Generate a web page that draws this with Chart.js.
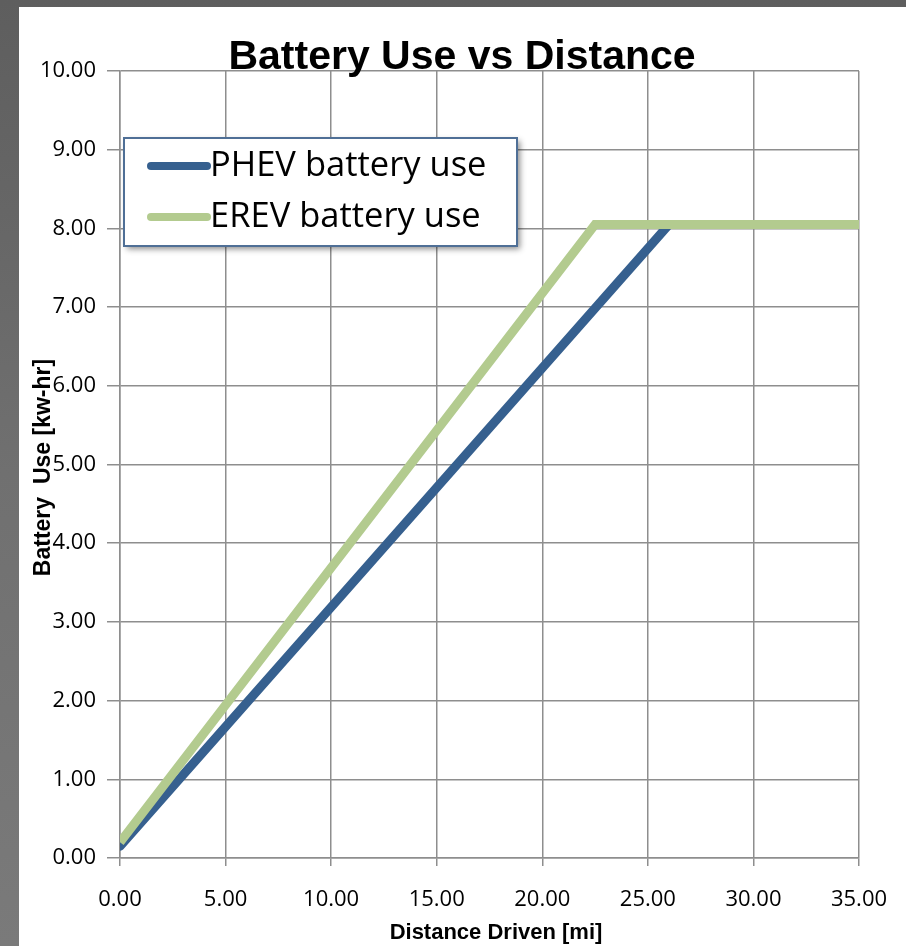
<!DOCTYPE html>
<html>
<head>
<meta charset="utf-8">
<script src="https://cdn.jsdelivr.net/npm/chart.js@4.4.1/dist/chart.umd.min.js"></script>
<style>
  html, body { margin: 0; padding: 0; background: #666; }
  #wrap { width: 906px; height: 946px; position: relative; }
  canvas { display: block; }
</style>
</head>
<body>
<div id="wrap"><canvas id="c" width="906" height="946"></canvas></div>
<script>
// ---- data ----
const chartTitle = "Battery Use vs Distance";
const xAxisTitle = "Distance Driven [mi]";
const yAxisTitle = "Battery  Use [kw-hr]";
const seriesNames = ["PHEV battery use", "EREV battery use"];
const phevDistance = [0, 26.0, 35];
const phevUse = [0.15, 8.05, 8.05];
const erevDistance = [0, 22.5, 35];
const erevUse = [0.2, 8.05, 8.05];
const xTickStep = 5, xMin = 0, xMax = 35;
const yTickStep = 1, yMin = 0, yMax = 10;

const toPts = (xs, ys) => xs.map((x, i) => ({ x: x, y: ys[i] }));

const BLUE = "#36608f";
const GREEN = "#b3cb8f";
const GRID = "#8e8e8e";

const framePlugin = {
  id: "frame",
  beforeDraw(chart) {
    const ctx = chart.ctx;
    ctx.save();
    const g = ctx.createLinearGradient(0, 0, 0, chart.height);
    g.addColorStop(0, "#5e5e5e");
    g.addColorStop(0.5, "#707070");
    g.addColorStop(1, "#7a7a7a");
    ctx.fillStyle = g;
    ctx.fillRect(0, 0, chart.width, chart.height);
    ctx.fillStyle = "#ffffff";
    ctx.fillRect(19, 7, chart.width - 19, chart.height - 7);
    ctx.restore();
  }
};

const textPlugin = {
  id: "texts",
  afterDraw(chart) {
    const ctx = chart.ctx;
    const a = chart.chartArea;
    ctx.save();
    // title
    ctx.fillStyle = "#000";
    ctx.font = "bold 41px 'Liberation Sans Narrow', 'Arial Narrow', sans-serif";
    ctx.textAlign = "center";
    ctx.textBaseline = "alphabetic";
    ctx.fillText(chartTitle, 462, 69);
    // x axis title
    ctx.font = "bold 22px 'Liberation Sans Narrow', 'Arial Narrow', sans-serif";
    ctx.fillText(xAxisTitle, 496, 939);
    // y axis title
    ctx.translate(50, (a.top + a.bottom) / 2 + 3);
    ctx.rotate(-Math.PI / 2);
    ctx.font = "bold 23px 'Liberation Sans Narrow', 'Arial Narrow', sans-serif";
    ctx.fillText(yAxisTitle, 0, 0);
    ctx.restore();

    // legend
    ctx.save();
    const lx = a.left + 4, ly = a.top + 67, lw = 393, lh = 108;
    ctx.shadowColor = "rgba(0,0,0,0.45)";
    ctx.shadowBlur = 6;
    ctx.shadowOffsetX = 3;
    ctx.shadowOffsetY = 3;
    ctx.fillStyle = "#fff";
    ctx.fillRect(lx, ly, lw, lh);
    ctx.shadowColor = "transparent";
    ctx.strokeStyle = "#4f6f96";
    ctx.lineWidth = 2;
    ctx.strokeRect(lx, ly, lw, lh);
    ctx.font = "34.5px 'Open Sans', sans-serif";
    ctx.textAlign = "left";
    ctx.textBaseline = "middle";
    chart.data.datasets.forEach((ds, i) => {
      const cy = ly + 28 + i * 51;
      ctx.strokeStyle = ds.borderColor;
      ctx.lineWidth = 8;
      ctx.lineCap = "round";
      ctx.beginPath();
      ctx.moveTo(lx + 27, cy);
      ctx.lineTo(lx + 83, cy);
      ctx.stroke();
      ctx.fillStyle = "#000";
      ctx.fillText(ds.label, lx + 86, cy);
    });
    ctx.restore();
  }
};

new Chart(document.getElementById("c"), {
  type: "scatter",
  data: {
    datasets: [
      { label: seriesNames[0], data: toPts(phevDistance, phevUse), showLine: true, order: 2,
        borderColor: BLUE, backgroundColor: BLUE, borderWidth: 9, pointRadius: 0,
        borderCapStyle: "round", borderJoinStyle: "miter", tension: 0 },
      { label: seriesNames[1], data: toPts(erevDistance, erevUse), showLine: true, order: 1,
        borderColor: GREEN, backgroundColor: GREEN, borderWidth: 9, pointRadius: 0,
        borderCapStyle: "butt", borderJoinStyle: "miter", tension: 0 }
    ]
  },
  options: {
    responsive: false,
    animation: false,
    events: [],
    layout: { padding: { top: 71, right: 47, left: 0, bottom: 0 } },
    plugins: { legend: { display: false }, title: { display: false }, tooltip: { enabled: false } },
    scales: {
      x: {
        type: "linear", min: xMin, max: xMax,
        afterFit(s) { s.height = 946 - 858; s.paddingLeft = 0; s.paddingRight = 0; },
        grid: { color: GRID, lineWidth: 1.5, tickLength: 8, drawTicks: true },
        border: { color: GRID, width: 1.5 },
        ticks: { stepSize: xTickStep, color: "#000", padding: 21,
          font: { family: "'Open Sans', sans-serif", size: 22 },
          callback: v => v.toFixed(2) }
      },
      y: {
        type: "linear", min: yMin, max: yMax,
        afterFit(s) { s.width = 120; s.paddingTop = 0; s.paddingBottom = 0; },
        grid: { color: GRID, lineWidth: 1.5, tickLength: 13 },
        border: { color: GRID, width: 1.5 },
        ticks: { stepSize: yTickStep, color: "#000", padding: 11,
          font: { family: "'Open Sans', sans-serif", size: 22 },
          callback: v => v.toFixed(2) }
      }
    }
  },
  plugins: [framePlugin, textPlugin]
});
</script>
</body>
</html>
